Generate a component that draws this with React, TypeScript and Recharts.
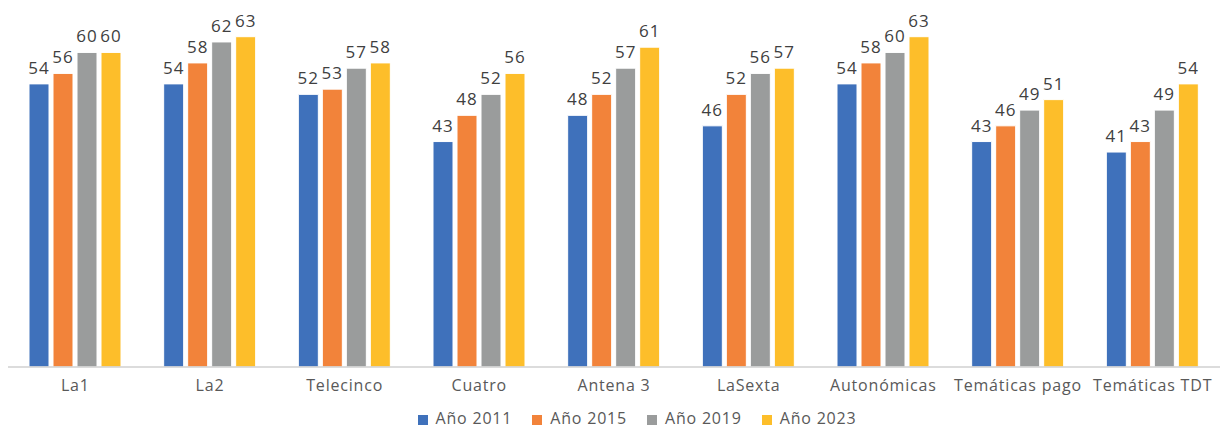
import { BarChart, Bar, XAxis, YAxis, Legend, LabelList } from "recharts";

const categories = ["La1", "La2", "Telecinco", "Cuatro", "Antena 3", "LaSexta", "Autonómicas", "Temáticas pago", "Temáticas TDT"];
const y2011 = [54, 54, 52, 43, 48, 46, 54, 43, 41];
const y2015 = [56, 58, 53, 48, 52, 52, 58, 46, 43];
const y2019 = [60, 62, 57, 52, 57, 56, 60, 49, 49];
const y2023 = [60, 63, 58, 56, 61, 57, 63, 51, 54];

const series = [
  { key: "a2011", name: "Año 2011", color: "#3F71BB", values: y2011 },
  { key: "a2015", name: "Año 2015", color: "#F2833A", values: y2015 },
  { key: "a2019", name: "Año 2019", color: "#9A9C9C", values: y2019 },
  { key: "a2023", name: "Año 2023", color: "#FDBE2A", values: y2023 },
];

const data = categories.map((c, i) => {
  const row: any = { name: c };
  series.forEach(s => { row[s.key] = s.values[i]; });
  return row;
});

const FONT = "'Open Sans', sans-serif";

export default function App() {
  return (
    <div style={{ position: "absolute", left: 0, top: 0, width: 1226, height: 427, background: "#fff" }}>
      <BarChart
        width={1226}
        height={427}
        data={data}
        margin={{ top: 0, right: 6, left: 8, bottom: 0 }}
        barCategoryGap={21}
        barGap={4}
      >
        <YAxis hide domain={[0, 70]} />
        <XAxis
          dataKey="name"
          height={40}
          tickLine={false}
          axisLine={{ stroke: "#D0D0D0", strokeWidth: 1.5 }}
          tickMargin={7}
          interval={0}
          tick={{ fontFamily: FONT, fontSize: 16, fill: "#595959", letterSpacing: 0.8 }}
        />
        <Legend
          verticalAlign="bottom"
          height={20}
          iconType="square"
          iconSize={10}
          wrapperStyle={{ top: 408, height: 20, lineHeight: "20px", paddingLeft: 66, boxSizing: "border-box" }}
          formatter={(v: string) => (
            <span style={{ color: "#595959", fontFamily: FONT, fontSize: 16, lineHeight: "20px", letterSpacing: 0.8, marginLeft: 4, marginRight: 10 }}>{v}</span>
          )}
        />
        {series.map(s => (
          <Bar key={s.key} dataKey={s.key} name={s.name} fill={s.color} stroke="#fff" strokeWidth={1} isAnimationActive={false}>
            <LabelList dataKey={s.key} position="top" offset={10} style={{ fontFamily: FONT, fontSize: 17, fill: "#404040", letterSpacing: 1 }} />
          </Bar>
        ))}
      </BarChart>
    </div>
  );
}
